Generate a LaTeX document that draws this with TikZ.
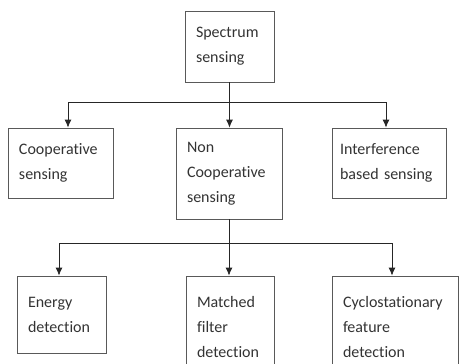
\documentclass[tikz,border=0pt]{standalone}
\usepackage{fontspec}
\setmainfont[Ligatures=CommonOff]{Carlito}
\usetikzlibrary{arrows.meta}

\begin{document}
\begin{tikzpicture}[
x=1pt, y=-1pt,
every node/.style={
draw=black!65,
thick,
align=left,
inner xsep=11pt,
text=black!80,
font=\fontsize{16pt}{25pt}\selectfont
},
link/.style={
draw=black!85,
thick,
-{Latex[length=8pt,width=7pt]}
}
]

\useasboundingbox (0,0) rectangle (459,364);

\node[text width=67pt, minimum height=71pt] (SS) at (229.5,46.5)
{Spectrum\\sensing};

\node[text width=83pt, minimum height=70pt] (CS) at (60.5,163)
{Cooperative\\sensing};

\node[text width=84pt, minimum height=91pt] (NCS) at (229,173.5)
{Non\\Cooperative\\sensing};

\node[text width=98pt, inner xsep=8pt, minimum height=70pt] (IBS) at (389,163)
{Interference\\based sensing};

\node[text width=67pt, minimum height=77pt] (ED) at (61.5,314.5)
{Energy\\detection};

\node[text width=66pt, minimum height=102pt] (MFD) at (230,327)
{Matched\\filter\\detection};

\node[text width=104pt, minimum height=102pt] (CFD) at (395,327)
{Cyclostationary\\feature\\detection};

\draw[link] (SS.south) -- ++(0,20) -| ([xshift=7.5pt]CS.north);
\draw[link] (SS.south) -- (SS.south |- NCS.north);
\draw[link] (SS.south) -- ++(0,20) -| ([xshift=-3pt]IBS.north);

\draw[link] (NCS.south) -- ++(0,24) -| ([xshift=-2.5pt]ED.north);
\draw[link] (NCS.south) -- (NCS.south |- MFD.north);
\draw[link] (NCS.south) -- ++(0,24) -| ([xshift=-3pt]CFD.north);

\end{tikzpicture}
\end{document}
